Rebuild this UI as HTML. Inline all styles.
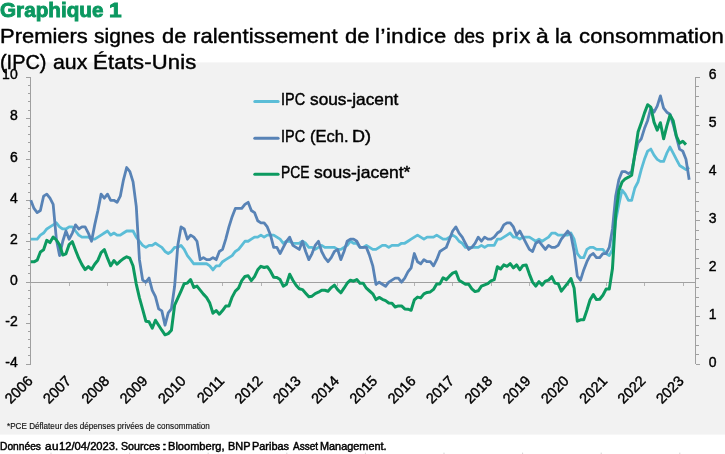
<!DOCTYPE html>
<html><head><meta charset="utf-8"><title>Graphique 1</title>
<style>
html,body{margin:0;padding:0;background:#fff;}
body{will-change:transform;width:725px;height:454px;position:relative;overflow:hidden;font-family:"Liberation Sans",sans-serif;}
.t{position:absolute;white-space:nowrap;transform-origin:0 0;line-height:1;}
</style></head><body>
<svg width="725" height="454" viewBox="0 0 725 454" style="position:absolute;left:0;top:0"><rect x="0" y="62.4" width="725" height="372.2" fill="#f2f2f2"/><rect x="50.5" y="452.6" width="1" height="1.4" fill="#d4d4d4"/><rect x="129.1" y="452.6" width="1" height="1.4" fill="#d4d4d4"/><rect x="207.7" y="452.6" width="1" height="1.4" fill="#d4d4d4"/><rect x="286.3" y="452.6" width="1" height="1.4" fill="#d4d4d4"/><rect x="364.9" y="452.6" width="1" height="1.4" fill="#d4d4d4"/><rect x="443.5" y="452.6" width="1" height="1.4" fill="#d4d4d4"/><rect x="522.1" y="452.6" width="1" height="1.4" fill="#d4d4d4"/><rect x="600.7" y="452.6" width="1" height="1.4" fill="#d4d4d4"/><rect x="679.3" y="452.6" width="1" height="1.4" fill="#d4d4d4"/><g stroke="#a0a0a0" stroke-width="1" fill="none" shape-rendering="crispEdges"><line x1="30.5" y1="77.4" x2="30.5" y2="364.1"/><line x1="695.5" y1="77.4" x2="695.5" y2="364.1"/><line x1="30.5" y1="282.5" x2="695.5" y2="282.5"/><line x1="26.0" y1="77.40" x2="30.5" y2="77.40"/><line x1="28.0" y1="85.59" x2="30.5" y2="85.59"/><line x1="28.0" y1="93.78" x2="30.5" y2="93.78"/><line x1="28.0" y1="101.97" x2="30.5" y2="101.97"/><line x1="28.0" y1="110.16" x2="30.5" y2="110.16"/><line x1="26.0" y1="118.36" x2="30.5" y2="118.36"/><line x1="28.0" y1="126.55" x2="30.5" y2="126.55"/><line x1="28.0" y1="134.74" x2="30.5" y2="134.74"/><line x1="28.0" y1="142.93" x2="30.5" y2="142.93"/><line x1="28.0" y1="151.12" x2="30.5" y2="151.12"/><line x1="26.0" y1="159.31" x2="30.5" y2="159.31"/><line x1="28.0" y1="167.50" x2="30.5" y2="167.50"/><line x1="28.0" y1="175.69" x2="30.5" y2="175.69"/><line x1="28.0" y1="183.88" x2="30.5" y2="183.88"/><line x1="28.0" y1="192.07" x2="30.5" y2="192.07"/><line x1="26.0" y1="200.27" x2="30.5" y2="200.27"/><line x1="28.0" y1="208.46" x2="30.5" y2="208.46"/><line x1="28.0" y1="216.65" x2="30.5" y2="216.65"/><line x1="28.0" y1="224.84" x2="30.5" y2="224.84"/><line x1="28.0" y1="233.03" x2="30.5" y2="233.03"/><line x1="26.0" y1="241.22" x2="30.5" y2="241.22"/><line x1="28.0" y1="249.41" x2="30.5" y2="249.41"/><line x1="28.0" y1="257.60" x2="30.5" y2="257.60"/><line x1="28.0" y1="265.79" x2="30.5" y2="265.79"/><line x1="28.0" y1="273.98" x2="30.5" y2="273.98"/><line x1="26.0" y1="282.18" x2="30.5" y2="282.18"/><line x1="28.0" y1="290.37" x2="30.5" y2="290.37"/><line x1="28.0" y1="298.56" x2="30.5" y2="298.56"/><line x1="28.0" y1="306.75" x2="30.5" y2="306.75"/><line x1="28.0" y1="314.94" x2="30.5" y2="314.94"/><line x1="26.0" y1="323.13" x2="30.5" y2="323.13"/><line x1="28.0" y1="331.32" x2="30.5" y2="331.32"/><line x1="28.0" y1="339.51" x2="30.5" y2="339.51"/><line x1="28.0" y1="347.70" x2="30.5" y2="347.70"/><line x1="28.0" y1="355.89" x2="30.5" y2="355.89"/><line x1="26.0" y1="364.09" x2="30.5" y2="364.09"/><line x1="695.5" y1="77.40" x2="700.0" y2="77.40"/><line x1="695.5" y1="86.96" x2="699.0" y2="86.96"/><line x1="695.5" y1="96.51" x2="699.0" y2="96.51"/><line x1="695.5" y1="106.07" x2="699.0" y2="106.07"/><line x1="695.5" y1="115.63" x2="699.0" y2="115.63"/><line x1="695.5" y1="125.19" x2="700.0" y2="125.19"/><line x1="695.5" y1="134.74" x2="699.0" y2="134.74"/><line x1="695.5" y1="144.30" x2="699.0" y2="144.30"/><line x1="695.5" y1="153.86" x2="699.0" y2="153.86"/><line x1="695.5" y1="163.41" x2="699.0" y2="163.41"/><line x1="695.5" y1="172.97" x2="700.0" y2="172.97"/><line x1="695.5" y1="182.53" x2="699.0" y2="182.53"/><line x1="695.5" y1="192.08" x2="699.0" y2="192.08"/><line x1="695.5" y1="201.64" x2="699.0" y2="201.64"/><line x1="695.5" y1="211.20" x2="699.0" y2="211.20"/><line x1="695.5" y1="220.76" x2="700.0" y2="220.76"/><line x1="695.5" y1="230.31" x2="699.0" y2="230.31"/><line x1="695.5" y1="239.87" x2="699.0" y2="239.87"/><line x1="695.5" y1="249.43" x2="699.0" y2="249.43"/><line x1="695.5" y1="258.98" x2="699.0" y2="258.98"/><line x1="695.5" y1="268.54" x2="700.0" y2="268.54"/><line x1="695.5" y1="278.10" x2="699.0" y2="278.10"/><line x1="695.5" y1="287.65" x2="699.0" y2="287.65"/><line x1="695.5" y1="297.21" x2="699.0" y2="297.21"/><line x1="695.5" y1="306.77" x2="699.0" y2="306.77"/><line x1="695.5" y1="316.33" x2="700.0" y2="316.33"/><line x1="695.5" y1="325.88" x2="699.0" y2="325.88"/><line x1="695.5" y1="335.44" x2="699.0" y2="335.44"/><line x1="695.5" y1="345.00" x2="699.0" y2="345.00"/><line x1="695.5" y1="354.55" x2="699.0" y2="354.55"/><line x1="695.5" y1="364.11" x2="700.0" y2="364.11"/><line x1="30.80" y1="283" x2="30.80" y2="286.4" stroke="#b4b4b4"/><line x1="69.18" y1="283" x2="69.18" y2="286.4" stroke="#b4b4b4"/><line x1="107.56" y1="283" x2="107.56" y2="286.4" stroke="#b4b4b4"/><line x1="145.94" y1="283" x2="145.94" y2="286.4" stroke="#b4b4b4"/><line x1="184.32" y1="283" x2="184.32" y2="286.4" stroke="#b4b4b4"/><line x1="222.70" y1="283" x2="222.70" y2="286.4" stroke="#b4b4b4"/><line x1="261.08" y1="283" x2="261.08" y2="286.4" stroke="#b4b4b4"/><line x1="299.46" y1="283" x2="299.46" y2="286.4" stroke="#b4b4b4"/><line x1="337.84" y1="283" x2="337.84" y2="286.4" stroke="#b4b4b4"/><line x1="376.22" y1="283" x2="376.22" y2="286.4" stroke="#b4b4b4"/><line x1="414.60" y1="283" x2="414.60" y2="286.4" stroke="#b4b4b4"/><line x1="452.98" y1="283" x2="452.98" y2="286.4" stroke="#b4b4b4"/><line x1="491.36" y1="283" x2="491.36" y2="286.4" stroke="#b4b4b4"/><line x1="529.74" y1="283" x2="529.74" y2="286.4" stroke="#b4b4b4"/><line x1="568.12" y1="283" x2="568.12" y2="286.4" stroke="#b4b4b4"/><line x1="606.50" y1="283" x2="606.50" y2="286.4" stroke="#b4b4b4"/><line x1="644.88" y1="283" x2="644.88" y2="286.4" stroke="#b4b4b4"/><line x1="683.26" y1="283" x2="683.26" y2="286.4" stroke="#b4b4b4"/></g><polyline points="30.80,239.19 34.00,239.19 37.19,239.19 40.39,235.10 43.58,233.05 46.78,228.95 49.98,226.90 53.17,224.86 56.37,222.81 59.56,226.90 62.76,228.95 65.96,228.95 69.15,226.90 72.35,226.90 75.54,231.00 78.74,235.10 81.94,237.14 85.13,237.14 88.33,237.14 91.52,239.19 94.72,239.19 97.92,237.14 101.11,235.10 104.31,233.05 107.50,231.00 110.70,235.10 113.90,233.05 117.09,235.10 120.29,235.10 123.48,233.05 126.68,231.00 129.88,231.00 133.07,231.00 136.27,237.14 139.46,241.24 142.66,245.34 145.86,247.38 149.05,245.34 152.25,245.34 155.44,243.29 158.64,245.34 161.84,247.38 165.03,251.48 168.23,253.53 171.42,251.48 174.62,247.38 177.82,247.38 181.01,245.34 184.21,249.43 187.40,255.58 190.60,259.67 193.80,263.77 196.99,263.77 200.19,263.77 203.38,263.77 206.58,263.77 209.78,265.82 212.97,269.91 216.17,265.82 219.36,265.82 222.56,261.72 225.76,259.67 228.95,257.62 232.15,255.58 235.34,251.48 238.54,249.43 241.74,245.34 244.93,241.24 248.13,241.24 251.32,239.19 254.52,237.14 257.72,237.14 260.91,235.10 264.11,237.14 267.30,235.10 270.50,235.10 273.70,235.10 276.89,237.14 280.09,239.19 283.28,243.29 286.48,241.24 289.68,241.24 292.87,243.29 296.07,243.29 299.26,243.29 302.46,241.24 305.66,243.29 308.85,247.38 312.05,247.38 315.24,249.43 318.44,247.38 321.64,245.34 324.83,247.38 328.03,247.38 331.22,247.38 334.42,247.38 337.62,249.43 340.81,249.43 344.01,247.38 347.20,245.34 350.40,241.24 353.60,243.29 356.79,243.29 359.99,247.38 363.18,247.38 366.38,245.34 369.58,247.38 372.77,249.43 375.97,249.43 379.16,247.38 382.36,245.34 385.56,245.34 388.75,247.38 391.95,245.34 395.14,245.34 398.34,245.34 401.54,243.29 404.73,243.29 407.93,241.24 411.12,239.19 414.32,237.14 417.52,235.10 420.71,237.14 423.91,239.19 427.10,237.14 430.30,237.14 433.50,237.14 436.69,235.10 439.89,237.14 443.08,239.19 446.28,239.19 449.48,237.14 452.67,235.10 455.87,237.14 459.06,241.24 462.26,243.29 465.46,247.38 468.65,247.38 471.85,247.38 475.04,247.38 478.24,247.38 481.44,245.34 484.63,247.38 487.83,245.34 491.02,245.34 494.22,245.34 497.42,239.19 500.61,239.19 503.81,237.14 507.00,235.10 510.20,233.05 513.40,237.14 516.59,237.14 519.79,239.19 522.98,237.14 526.18,237.14 529.38,237.14 532.57,239.19 535.77,241.24 538.96,239.19 542.16,241.24 545.36,239.19 548.55,237.14 551.75,233.05 554.94,233.05 558.14,235.10 561.34,235.10 564.53,235.10 567.73,235.10 570.92,233.05 574.12,239.19 577.32,253.53 580.51,257.62 583.71,257.62 586.90,249.43 590.10,247.38 593.30,247.38 596.49,249.43 599.69,249.43 602.88,249.43 606.08,253.53 609.28,255.58 612.47,249.43 615.67,220.76 618.86,204.38 622.06,190.04 625.26,194.14 628.45,200.28 631.65,200.28 634.84,187.99 638.04,181.85 641.24,169.56 644.43,159.32 647.63,151.13 650.82,149.08 654.02,155.22 657.22,159.32 660.41,161.37 663.61,161.37 666.80,153.18 670.00,147.03 673.20,153.18 676.39,159.32 679.59,165.46 682.78,167.51 685.98,169.56 689.18,167.51" fill="none" stroke="#5bbdd7" stroke-width="2.8" stroke-linejoin="round"/><polyline points="30.80,200.28 34.00,208.47 37.19,212.57 40.39,210.52 43.58,196.18 46.78,194.14 49.98,198.23 53.17,204.38 56.37,239.19 59.56,255.58 62.76,241.24 65.96,231.00 69.15,239.19 72.35,233.05 75.54,224.86 78.74,228.95 81.94,226.90 85.13,226.90 88.33,233.05 91.52,241.24 94.72,224.86 97.92,210.52 101.11,194.14 104.31,198.23 107.50,194.14 110.70,200.28 113.90,200.28 117.09,202.33 120.29,196.18 123.48,179.80 126.68,167.51 129.88,171.61 133.07,181.85 136.27,206.42 139.46,259.67 142.66,280.15 145.86,282.20 149.05,278.10 152.25,290.39 155.44,296.54 158.64,308.82 161.84,310.87 165.03,325.21 168.23,312.92 171.42,308.82 174.62,286.30 177.82,245.34 181.01,226.90 184.21,228.95 187.40,239.19 190.60,235.10 193.80,237.14 196.99,241.24 200.19,259.67 203.38,257.62 206.58,259.67 209.78,259.67 212.97,257.62 216.17,259.67 219.36,251.48 222.56,249.43 225.76,239.19 228.95,226.90 232.15,216.66 235.34,208.47 238.54,208.47 241.74,208.47 244.93,204.38 248.13,202.33 251.32,210.52 254.52,212.57 257.72,220.76 260.91,222.81 264.11,222.81 267.30,226.90 270.50,235.10 273.70,247.38 276.89,247.38 280.09,253.53 283.28,247.38 286.48,241.24 289.68,237.14 292.87,245.34 296.07,247.38 299.26,249.43 302.46,241.24 305.66,251.48 308.85,259.67 312.05,253.53 315.24,245.34 318.44,241.24 321.64,251.48 324.83,257.62 328.03,261.72 331.22,257.62 334.42,251.48 337.62,249.43 340.81,259.67 344.01,251.48 347.20,241.24 350.40,239.19 353.60,239.19 356.79,241.24 359.99,247.38 363.18,247.38 366.38,247.38 369.58,255.58 372.77,265.82 375.97,284.25 379.16,282.20 382.36,284.25 385.56,286.30 388.75,282.20 391.95,280.15 395.14,278.10 398.34,278.10 401.54,282.20 404.73,278.10 407.93,271.96 411.12,267.86 414.32,253.53 417.52,261.72 420.71,263.77 423.91,259.67 427.10,261.72 430.30,261.72 433.50,265.82 436.69,259.67 439.89,251.48 443.08,249.43 446.28,247.38 449.48,239.19 452.67,231.00 455.87,226.90 459.06,233.05 462.26,237.14 465.46,243.29 468.65,249.43 471.85,247.38 475.04,243.29 478.24,237.14 481.44,241.24 484.63,237.14 487.83,239.19 491.02,239.19 494.22,237.14 497.42,233.05 500.61,231.00 503.81,224.86 507.00,222.81 510.20,222.81 513.40,226.90 516.59,235.10 519.79,231.00 522.98,237.14 526.18,243.29 529.38,249.43 532.57,251.48 535.77,243.29 538.96,241.24 542.16,245.34 545.36,249.43 548.55,245.34 551.75,247.38 554.94,247.38 558.14,245.34 561.34,239.19 564.53,235.10 567.73,231.00 570.92,235.10 574.12,251.48 577.32,276.06 580.51,280.15 583.71,269.91 586.90,261.72 590.10,255.58 593.30,253.53 596.49,257.62 599.69,257.62 602.88,253.53 606.08,253.53 609.28,247.38 612.47,228.95 615.67,196.18 618.86,179.80 622.06,171.61 625.26,171.61 628.45,173.66 631.65,171.61 634.84,155.22 638.04,142.94 641.24,138.84 644.43,128.60 647.63,120.41 650.82,108.12 654.02,112.22 657.22,106.07 660.41,95.83 663.61,108.12 666.80,112.22 670.00,114.26 673.20,124.50 676.39,136.79 679.59,149.08 682.78,151.13 685.98,159.32 689.18,179.80" fill="none" stroke="#5883b6" stroke-width="2.8" stroke-linejoin="round"/><polyline points="30.80,261.80 34.00,261.80 37.19,260.20 40.39,252.00 43.58,249.80 46.78,240.30 49.98,242.60 53.17,237.00 56.37,240.00 59.56,244.80 62.76,255.00 65.96,253.80 69.15,244.60 72.35,241.70 75.54,250.20 78.74,258.20 81.94,264.60 85.13,269.60 88.33,266.60 91.52,269.40 94.72,264.20 97.92,260.20 101.11,252.60 104.31,249.60 107.50,258.20 110.70,265.80 113.90,260.60 117.09,264.20 120.29,261.20 123.48,258.60 126.68,256.80 129.88,258.20 133.07,266.00 136.27,284.10 139.46,297.80 142.66,309.30 145.86,321.20 149.05,321.80 152.25,328.20 155.44,320.20 158.64,325.20 161.84,330.20 165.03,334.80 168.23,333.60 171.42,330.20 174.62,305.10 177.82,298.10 181.01,291.10 184.21,283.70 187.40,283.10 190.60,279.50 193.80,287.50 196.99,286.10 200.19,290.10 203.38,294.10 206.58,297.50 209.78,303.10 212.97,313.20 216.17,310.60 219.36,314.20 222.56,310.60 225.76,306.10 228.95,306.10 232.15,297.10 235.34,291.10 238.54,288.10 241.74,280.70 244.93,276.50 248.13,275.70 251.32,280.60 254.52,276.60 257.72,269.80 260.91,266.30 264.11,267.50 267.30,266.70 270.50,271.20 273.70,277.20 276.89,277.60 280.09,279.60 283.28,286.20 286.48,284.20 289.68,274.20 292.87,280.20 296.07,285.20 299.26,288.80 302.46,289.60 305.66,293.20 308.85,296.80 312.05,296.20 315.24,293.60 318.44,292.20 321.64,290.20 324.83,290.20 328.03,291.20 331.22,287.60 334.42,285.20 337.62,289.60 340.81,292.80 344.01,288.20 347.20,283.20 350.40,280.20 353.60,281.20 356.79,279.60 359.99,283.20 363.18,283.20 366.38,288.20 369.58,291.00 372.77,293.80 375.97,299.60 379.16,297.40 382.36,299.30 385.56,300.60 388.75,303.00 391.95,303.20 395.14,307.00 398.34,305.90 401.54,305.90 404.73,308.90 407.93,309.20 411.12,310.30 414.32,299.90 417.52,297.10 420.71,297.90 423.91,293.80 427.10,292.40 430.30,291.90 433.50,289.40 436.69,283.90 439.89,283.90 443.08,277.80 446.28,279.60 449.48,276.20 452.67,273.20 455.87,271.80 459.06,280.20 462.26,282.20 465.46,284.20 468.65,284.20 471.85,288.80 475.04,291.60 478.24,290.80 481.44,286.20 484.63,284.80 487.83,283.60 491.02,280.80 494.22,279.60 497.42,266.70 500.61,269.00 503.81,264.80 507.00,266.30 510.20,263.70 513.40,267.80 516.59,264.90 519.79,269.80 522.98,265.40 526.18,265.10 529.38,274.10 532.57,282.10 535.77,286.10 538.96,281.70 542.16,285.10 545.36,281.10 548.55,280.10 551.75,276.70 554.94,283.10 558.14,283.70 561.34,291.10 564.53,287.10 567.73,283.10 570.92,278.50 574.12,288.10 577.32,321.20 580.51,319.80 583.71,319.80 586.90,310.20 590.10,299.80 593.30,294.60 596.49,299.60 599.69,299.20 602.88,295.20 606.08,289.10 609.28,289.10 612.47,268.50 615.67,215.10 618.86,190.70 622.06,182.00 625.26,178.80 628.45,177.20 631.65,175.30 634.84,154.00 638.04,132.10 641.24,123.10 644.43,113.10 647.63,104.70 650.82,107.10 654.02,122.10 657.22,130.10 660.41,122.70 663.61,138.80 666.80,126.10 670.00,115.10 673.20,120.70 676.39,136.10 679.59,143.20 682.78,141.20 685.98,144.60" fill="none" stroke="#0c9a60" stroke-width="3.0" stroke-linejoin="round"/><line x1="254.8" y1="101.5" x2="278.1" y2="101.5" stroke="#5bbdd7" stroke-width="3" stroke-linecap="round"/><line x1="254.8" y1="138.2" x2="278.1" y2="138.2" stroke="#5883b6" stroke-width="3" stroke-linecap="round"/><line x1="254.8" y1="174.3" x2="278.1" y2="174.3" stroke="#0c9a60" stroke-width="3" stroke-linecap="round"/><g font-family="Liberation Sans, sans-serif" font-size="14" fill="#000" stroke="#000" stroke-width="0.4"><text x="17.7" y="79.3" text-anchor="end">10</text><text x="17.7" y="120.4" text-anchor="end">8</text><text x="17.7" y="161.6" text-anchor="end">6</text><text x="17.7" y="202.7" text-anchor="end">4</text><text x="17.7" y="243.9" text-anchor="end">2</text><text x="17.7" y="285.1" text-anchor="end">0</text><text x="17.7" y="326.2" text-anchor="end">-2</text><text x="17.7" y="367.4" text-anchor="end">-4</text><text x="708.8" y="367.1">0</text><text x="708.8" y="319.1">1</text><text x="708.8" y="271.1">2</text><text x="708.8" y="223.1">3</text><text x="708.8" y="175.1">4</text><text x="708.8" y="127.1">5</text><text x="708.8" y="79.1">6</text><text font-size="14.5" transform="translate(33.6,381.8) rotate(-45)" text-anchor="end">2006</text><text font-size="14.5" transform="translate(71.9,381.8) rotate(-45)" text-anchor="end">2007</text><text font-size="14.5" transform="translate(110.2,381.8) rotate(-45)" text-anchor="end">2008</text><text font-size="14.5" transform="translate(148.5,381.8) rotate(-45)" text-anchor="end">2009</text><text font-size="14.5" transform="translate(186.8,381.8) rotate(-45)" text-anchor="end">2010</text><text font-size="14.5" transform="translate(225.1,381.8) rotate(-45)" text-anchor="end">2011</text><text font-size="14.5" transform="translate(263.4,381.8) rotate(-45)" text-anchor="end">2012</text><text font-size="14.5" transform="translate(301.7,381.8) rotate(-45)" text-anchor="end">2013</text><text font-size="14.5" transform="translate(340.0,381.8) rotate(-45)" text-anchor="end">2014</text><text font-size="14.5" transform="translate(378.3,381.8) rotate(-45)" text-anchor="end">2015</text><text font-size="14.5" transform="translate(416.6,381.8) rotate(-45)" text-anchor="end">2016</text><text font-size="14.5" transform="translate(454.9,381.8) rotate(-45)" text-anchor="end">2017</text><text font-size="14.5" transform="translate(493.2,381.8) rotate(-45)" text-anchor="end">2018</text><text font-size="14.5" transform="translate(531.5,381.8) rotate(-45)" text-anchor="end">2019</text><text font-size="14.5" transform="translate(569.8,381.8) rotate(-45)" text-anchor="end">2020</text><text font-size="14.5" transform="translate(608.1,381.8) rotate(-45)" text-anchor="end">2021</text><text font-size="14.5" transform="translate(646.4,381.8) rotate(-45)" text-anchor="end">2022</text><text font-size="14.5" transform="translate(684.7,381.8) rotate(-45)" text-anchor="end">2023</text></g></svg>
<div class="t" style="left:0.07px;top:-0.88px;font-size:21px;color:#0b9860;transform:scaleX(0.9848);font-weight:bold;-webkit-text-stroke:0.9px #0b9860;">Graphique</div>
<div class="t" style="left:108.88px;top:-0.88px;font-size:21px;color:#0b9860;transform:scaleX(1.0797);font-weight:bold;-webkit-text-stroke:0.9px #0b9860;">1</div>
<div class="t" style="left:0.14px;top:26.19px;font-size:20.8px;color:#000;transform:scaleX(1.0556);-webkit-text-stroke:0.45px #000;">Premiers</div>
<div class="t" style="left:94.42px;top:26.19px;font-size:20.8px;color:#000;transform:scaleX(1.0083);-webkit-text-stroke:0.45px #000;">signes</div>
<div class="t" style="left:161.92px;top:26.19px;font-size:20.8px;color:#000;transform:scaleX(1.0528);-webkit-text-stroke:0.45px #000;">de</div>
<div class="t" style="left:192.57px;top:26.19px;font-size:20.8px;color:#000;transform:scaleX(1.0600);letter-spacing:0.085px;-webkit-text-stroke:0.45px #000;">ralentissement</div>
<div class="t" style="left:345.12px;top:26.19px;font-size:20.8px;color:#000;transform:scaleX(1.0600);letter-spacing:0.043px;-webkit-text-stroke:0.45px #000;">de</div>
<div class="t" style="left:374.57px;top:26.19px;font-size:20.8px;color:#000;transform:scaleX(1.0600);letter-spacing:0.527px;-webkit-text-stroke:0.45px #000;">l’indice</div>
<div class="t" style="left:453.54px;top:26.19px;font-size:20.8px;color:#000;transform:scaleX(0.9131);-webkit-text-stroke:0.45px #000;">des</div>
<div class="t" style="left:491.52px;top:26.19px;font-size:20.8px;color:#000;transform:scaleX(1.0600);letter-spacing:0.895px;-webkit-text-stroke:0.45px #000;">prix</div>
<div class="t" style="left:536.43px;top:26.19px;font-size:20.8px;color:#000;transform:scaleX(1.1016);-webkit-text-stroke:0.45px #000;">à</div>
<div class="t" style="left:554.82px;top:26.19px;font-size:20.8px;color:#000;transform:scaleX(1.0221);-webkit-text-stroke:0.45px #000;">la</div>
<div class="t" style="left:578.66px;top:26.19px;font-size:20.8px;color:#000;transform:scaleX(1.0600);letter-spacing:0.116px;-webkit-text-stroke:0.45px #000;">consommation</div>
<div class="t" style="left:0.31px;top:52.39px;font-size:20.8px;color:#000;transform:scaleX(0.9561);-webkit-text-stroke:0.45px #000;">(IPC)</div>
<div class="t" style="left:52.60px;top:52.39px;font-size:20.8px;color:#000;transform:scaleX(1.0232);-webkit-text-stroke:0.45px #000;">aux</div>
<div class="t" style="left:92.84px;top:52.39px;font-size:20.8px;color:#000;transform:scaleX(1.0600);letter-spacing:0.172px;-webkit-text-stroke:0.45px #000;">États-Unis</div>
<div class="t" style="left:280.60px;top:91.21px;font-size:17px;color:#000;transform:scaleX(0.8518);-webkit-text-stroke:0.45px #000;">IPC</div>
<div class="t" style="left:310.33px;top:91.21px;font-size:17px;color:#000;transform:scaleX(1.0155);-webkit-text-stroke:0.45px #000;">sous-jacent</div>
<div class="t" style="left:280.60px;top:127.91px;font-size:17px;color:#000;transform:scaleX(0.8518);-webkit-text-stroke:0.45px #000;">IPC</div>
<div class="t" style="left:310.31px;top:127.91px;font-size:17px;color:#000;transform:scaleX(0.9730);-webkit-text-stroke:0.45px #000;">(Ech.</div>
<div class="t" style="left:351.76px;top:127.91px;font-size:17px;color:#000;transform:scaleX(1.0608);-webkit-text-stroke:0.45px #000;">D)</div>
<div class="t" style="left:280.79px;top:164.01px;font-size:17px;color:#000;transform:scaleX(0.8147);-webkit-text-stroke:0.45px #000;">PCE</div>
<div class="t" style="left:314.22px;top:164.01px;font-size:17px;color:#000;transform:scaleX(1.0295);-webkit-text-stroke:0.45px #000;">sous-jacent*</div>
<div class="t" id="fn" style="left:6.5px;top:422px;font-size:9px;color:#111;-webkit-text-stroke:0.15px #111;transform:scaleX(0.903);">*PCE Déflateur des dépenses privées de consommation</div>
<div class="t" style="left:0.08px;top:440.71px;font-size:10.5px;color:#000;transform:scaleX(0.9750);-webkit-text-stroke:0.45px #000;">Données</div>
<div class="t" style="left:44.50px;top:440.71px;font-size:10.5px;color:#000;transform:scaleX(1.1200);letter-spacing:0.456px;-webkit-text-stroke:0.45px #000;">au</div>
<div class="t" style="left:59.16px;top:440.71px;font-size:10.5px;color:#000;transform:scaleX(1.0664);-webkit-text-stroke:0.45px #000;">12/04/2023.</div>
<div class="t" style="left:121.22px;top:440.71px;font-size:10.5px;color:#000;transform:scaleX(1.0168);-webkit-text-stroke:0.45px #000;">Sources</div>
<div class="t" style="left:162.43px;top:440.71px;font-size:10.5px;color:#000;transform:scaleX(1.6606);-webkit-text-stroke:0.45px #000;">:</div>
<div class="t" style="left:168.42px;top:440.71px;font-size:10.5px;color:#000;transform:scaleX(1.0535);-webkit-text-stroke:0.45px #000;">Bloomberg,</div>
<div class="t" style="left:227.53px;top:440.71px;font-size:10.5px;color:#000;transform:scaleX(1.0390);-webkit-text-stroke:0.45px #000;">BNP</div>
<div class="t" style="left:251.83px;top:440.71px;font-size:10.5px;color:#000;transform:scaleX(1.0411);-webkit-text-stroke:0.45px #000;">Paribas</div>
<div class="t" style="left:292.50px;top:440.71px;font-size:10.5px;color:#000;transform:scaleX(0.9543);-webkit-text-stroke:0.45px #000;">Asset</div>
<div class="t" style="left:320.33px;top:440.71px;font-size:10.5px;color:#000;transform:scaleX(1.0365);-webkit-text-stroke:0.45px #000;">Management.</div>
</body></html>
